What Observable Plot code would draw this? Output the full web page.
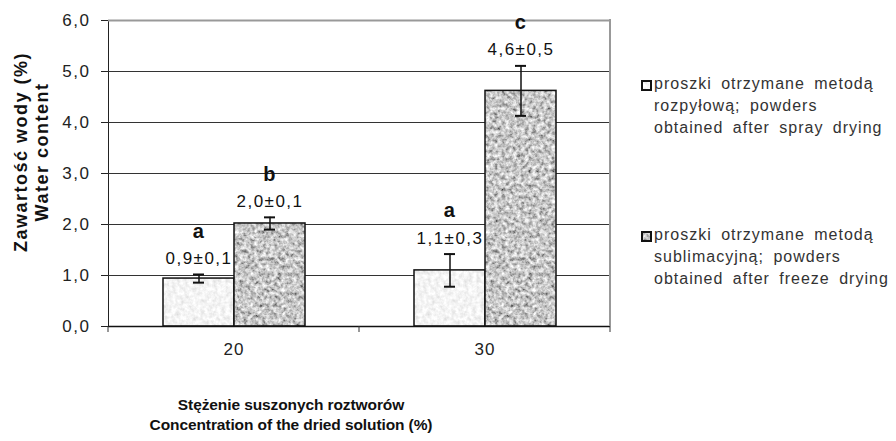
<!DOCTYPE html>
<html>
<head>
<meta charset="utf-8">
<script src="https://cdn.jsdelivr.net/npm/d3@7"></script>
<script src="https://cdn.jsdelivr.net/npm/@observablehq/plot@0.6"></script>
<style>
  html, body { margin: 0; padding: 0; background: #fff; }
  #wrap { position: relative; width: 896px; height: 441px; overflow: hidden; font-family: "Liberation Sans", Arial, sans-serif; }
  #chart { position: absolute; left: 0; top: 0; }
  #chart svg g[aria-label="text"] text { letter-spacing: 1.5px; }
  #chart svg g[aria-label="y-axis tick label"] text { letter-spacing: 1.5px; }
  #chart svg g[aria-label="fx-axis tick label"] text { letter-spacing: 1px; }
  .ytitle { position: absolute; left: 32px; top: 152px; width: 300px; margin-left: -150px; margin-top: -21px;
            transform: rotate(-90deg); text-align: center; font-weight: bold; font-size: 18px; line-height: 21px;
            color: #111; letter-spacing: 1.5px; white-space: nowrap; }
  .xtitle { position: absolute; left: 111px; top: 395px; width: 360px; text-align: center; font-weight: bold;
            font-size: 15.5px; line-height: 20px; color: #111; white-space: nowrap; letter-spacing: -0.1px; }
  .leg { position: absolute; left: 641px; width: 252px; font-size: 16px; line-height: 22px; color: #333; letter-spacing: 1px; word-spacing: 4px; }
  .leg svg { position: absolute; left: 0; top: 7px; }
  .leg .t { margin-left: 13px; white-space: pre; }
</style>
</head>
<body>
<div id="wrap">
  <div id="chart"></div>
  <div class="ytitle">Zawartość wody (%)<br>Water content</div>
  <div class="xtitle">Stężenie suszonych roztworów<br>Concentration of the dried solution (%)</div>
  <div class="leg" style="top:73px"><svg width="11" height="11"><rect x="1" y="1" width="9" height="9" fill="url(#texSpray)" stroke="#111" stroke-width="2"/></svg><div class="t">proszki otrzymane metodą
rozpyłową; powders
obtained after spray drying</div></div>
  <div class="leg" style="top:224px"><svg width="11" height="11"><rect x="1" y="1" width="9" height="9" fill="url(#texFreeze)" stroke="#111" stroke-width="2"/></svg><div class="t">proszki otrzymane metodą
sublimacyjną; powders
obtained after freeze drying</div></div>
</div>
<script>
// ---- data ----
const concentrations = ["20", "30"];
const methods = ["spray", "freeze"];
const sprayMean = [0.94, 1.10];
const sprayErr = [0.08, 0.32];
const freezeMean = [2.02, 4.62];
const freezeErr = [0.12, 0.49];
const sprayLabels = ["0,9±0,1", "1,1±0,3"];
const freezeLabels = ["2,0±0,1", "4,6±0,5"];
const sprayLetters = ["a", "a"];
const freezeLetters = ["b", "c"];
const yTicks = [0, 1, 2, 3, 4, 5, 6];

const rows = [];
concentrations.forEach((c, i) => {
  rows.push({conc: c, method: "spray", mean: sprayMean[i], err: sprayErr[i], label: sprayLabels[i], letter: sprayLetters[i]});
  rows.push({conc: c, method: "freeze", mean: freezeMean[i], err: freezeErr[i], label: freezeLabels[i], letter: freezeLetters[i]});
});

const fmt = d => d.toFixed(1).replace(".", ",");

const plot = Plot.plot({
  width: 620,
  height: 365,
  marginTop: 20,
  marginBottom: 39,
  marginLeft: 107,
  marginRight: 10,
  style: {fontFamily: "'Liberation Sans', Arial, sans-serif", fontSize: "17px", color: "#222", background: "#fff", overflow: "visible"},
  fx: {domain: concentrations, padding: 0, label: null, tickSize: 0, tickPadding: 16},
  x: {domain: methods, paddingInner: 0, paddingOuter: 0.75, axis: null},
  y: {domain: [0, 6], ticks: yTicks, tickFormat: fmt, label: null, tickSize: 7, tickPadding: 11, line: true},
  marks: [
    Plot.ruleY(yTicks.filter(t => t > 0 && t < 6), {stroke: "#333", strokeWidth: 1}),
    Plot.ruleY([6], {stroke: "#999", strokeWidth: 2}),
    Plot.barY(rows, {fx: "conc", x: "method", y: "mean",
      fill: d => d.method === "spray" ? "url(#texSpray)" : "url(#texFreeze)",
      stroke: "#111", strokeWidth: 1.5}),
    Plot.ruleY([0], {stroke: "#111", strokeWidth: 1.5}),
    Plot.ruleX(rows, {fx: "conc", x: "method", y1: d => d.mean - d.err, y2: d => d.mean + d.err, stroke: "#111", strokeWidth: 1.5}),
    Plot.tickY(rows, {fx: "conc", x: "method", y: d => d.mean - d.err, insetLeft: 30, insetRight: 30, stroke: "#111", strokeWidth: 2}),
    Plot.tickY(rows, {fx: "conc", x: "method", y: d => d.mean + d.err, insetLeft: 30, insetRight: 30, stroke: "#111", strokeWidth: 2}),
    Plot.text(rows, {fx: "conc", x: "method", y: d => d.mean + d.err, text: "label", dy: -16, fontSize: 17, fill: "#111"}),
    Plot.text(rows, {fx: "conc", x: "method", y: d => d.mean + d.err, text: "letter", dy: -43, fontSize: 20, fontWeight: "bold", fill: "#111"})
  ]
});

document.getElementById("chart").appendChild(plot);

// textures (deterministic SVG noise) and extra frame details drawn from Plot's scales
const svg = d3.select(plot.tagName === "svg" ? plot : plot.querySelector("svg"));
const defs = svg.insert("defs", ":first-child");
function tex(id, k, o, freq, seed) {
  const f = defs.append("filter").attr("id", id + "N").attr("x", 0).attr("y", 0).attr("width", 1).attr("height", 1);
  f.append("feTurbulence").attr("type", "fractalNoise").attr("baseFrequency", freq).attr("numOctaves", 3).attr("seed", seed);
  f.append("feColorMatrix").attr("type", "matrix")
    .attr("values", `${k} 0 0 0 ${o}  ${k} 0 0 0 ${o}  ${k} 0 0 0 ${o}  0 0 0 0 1`);
  const p = defs.append("pattern").attr("id", id).attr("patternUnits", "userSpaceOnUse").attr("width", 900).attr("height", 450);
  p.append("rect").attr("width", 900).attr("height", 450).attr("fill", "#ccc").attr("filter", `url(#${id}N)`);
}
tex("texSpray", 0.45, 0.68, 0.24, 3);
tex("texFreeze", 1.35, -0.1, 0.26, 7);

const fx = plot.scale("fx");
const y = plot.scale("y");
const yBase = y.apply(0);
const edges = fx.domain.map(d => fx.apply(d));
edges.push(fx.range[1]);
const g = svg.append("g");
edges.forEach(xp => {
  g.append("line").attr("x1", xp).attr("x2", xp).attr("y1", yBase).attr("y2", yBase + 6).attr("stroke", "#333");
});
g.append("line").attr("x1", fx.range[1]).attr("x2", fx.range[1]).attr("y1", y.apply(6) - 1).attr("y2", yBase)
  .attr("stroke", "#999").attr("stroke-width", 2);
</script>
</body>
</html>
